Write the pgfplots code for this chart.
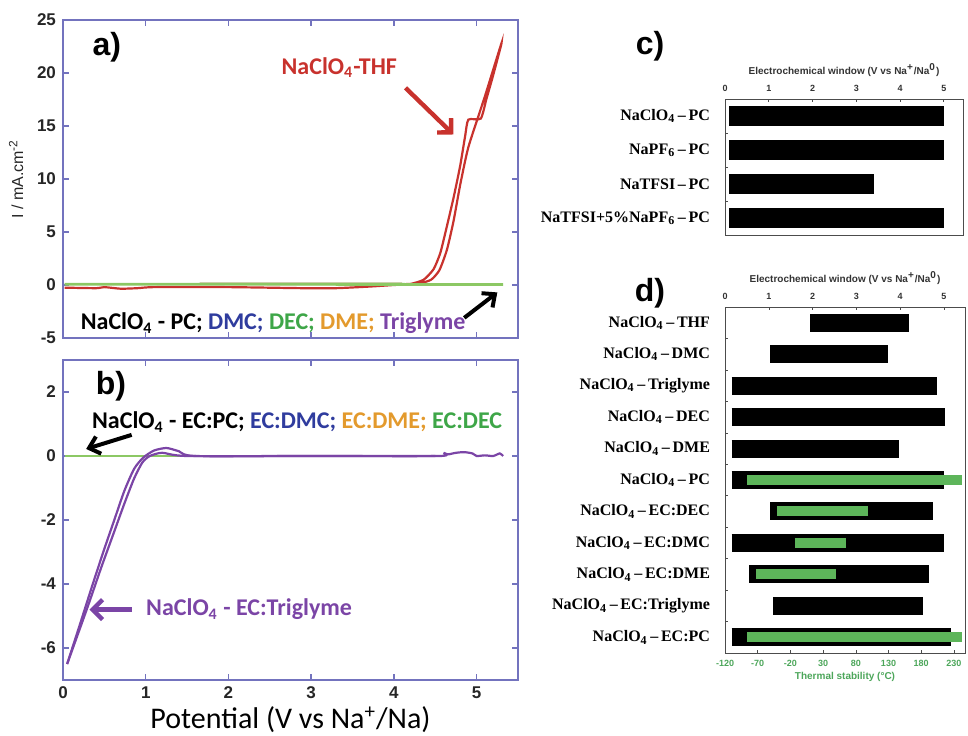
\documentclass[border=0pt]{standalone}
\usepackage{pgfplots}
\pgfplotsset{compat=1.18}
\usepackage{fontspec}
\setmainfont{Liberation Serif}
\setsansfont{Liberation Sans}
\newfontfamily\calfont{Carlito}
\usetikzlibrary{arrows.meta}

\definecolor{frameblue}{HTML}{7373BE}
\definecolor{thfred}{HTML}{C8322D}
\definecolor{lgreen}{HTML}{8CC864}
\definecolor{purp}{HTML}{7B45A6}
\definecolor{tblue}{HTML}{2F3C9E}
\definecolor{tgreen}{HTML}{3EA648}
\definecolor{torange}{HTML}{E39A2D}
\definecolor{olive}{HTML}{8A7A30}
\definecolor{bargreen}{HTML}{5DB55A}
\definecolor{dgreen}{HTML}{4CA65A}

\tikzset{cat/.style={font=\rmfamily\bfseries\fontsize{8}{9}\selectfont, anchor=east, xshift=-4pt}}

\pgfplotsset{
  cv/.style={scale only axis, anchor=south west, width=227.5pt,
    xmin=0, xmax=5.5, xtick={0,1,2,3,4,5},
    axis line style={frameblue, line width=1pt},
    every tick/.style={frameblue, line width=0.7pt}, major tick length=3pt,
    tick label style={font=\sffamily\bfseries\fontsize{8.5}{9}\selectfont, black!85},
    /pgf/number format/assume math mode=true, clip mode=individual},
  win/.style={scale only axis, anchor=south west, y dir=reverse,
    xtick={0,1,2,3,4,5}, xtick pos=right, xticklabel pos=right,
    axis line style={black!70, line width=0.4pt},
    every tick/.style={black!70, line width=0.3pt}, major tick length=1.5pt,
    xticklabel style={font=\sffamily\bfseries\fontsize{4.5}{5}\selectfont, black!80},
    yticklabels={}, ytick pos=left,
    /pgf/number format/assume math mode=true, clip=false},
}

\begin{document}
\begin{tikzpicture}
\path[use as bounding box] (0,0) rectangle (484pt,367.5pt);

% ---- a) ----
\begin{axis}[cv, at={(31.5pt,198.5pt)}, height=159pt,
  ymin=-5, ymax=25, ytick={-5,0,5,10,15,20,25}, xticklabels={},
  ylabel={I / mA.cm\textsuperscript{-2}},
  ylabel style={font=\sffamily\fontsize{8}{9}\selectfont, black!85}]
\addplot[olive, line width=1.2pt] coordinates {(1.65,0.12) (4.1,0.1)};
\addplot[thfred, line width=1.1pt, smooth, tension=0.35] coordinates {
  (0.02,-0.25) (0.4,-0.3) (0.5,-0.2) (0.7,-0.35) (0.9,-0.3) (1.1,-0.2)
  (2.0,-0.2) (2.9,-0.3) (3.3,-0.3) (3.7,-0.15) (4.0,0.0) (4.2,0.1)
  (4.36,0.5) (4.48,1.5) (4.56,3.0) (4.63,5.2) (4.72,8.2) (4.8,11.2) (4.86,14.0)
  (4.9,15.6) (5.05,15.7) (5.12,17.6) (5.2,19.8) (5.3,22.8)
  (5.1,17.8) (4.9,13.0) (4.8,9.4) (4.72,6.0) (4.64,3.3) (4.55,1.4) (4.45,0.5)
  (4.3,0.15) (4.0,0.05) (3.6,0.0)};
\addplot[lgreen, line width=1.4pt] coordinates {(0.02,0.08) (5.32,0.05)};
\node[font=\calfont\bfseries\fontsize{12}{14}\selectfont, text=thfred] at (axis cs:3.34,20.5) {NaClO\textsubscript{4}-THF};
\draw[thfred, line width=2.2pt, -{Straight Barb[length=5pt,width=10pt]}] (axis cs:4.14,18.6) -- (axis cs:4.72,14.2);
\node[font=\calfont\bfseries\fontsize{12}{14}\selectfont] at (axis cs:2.54,-3.6)
  {NaClO\textsubscript{4} - PC; \textcolor{tblue}{DMC;} \textcolor{tgreen}{DEC;} \textcolor{torange}{DME;} \textcolor{purp}{Triglyme}};
\draw[black, line width=2pt, -{Straight Barb[length=5pt,width=9pt]}] (axis cs:4.85,-3.1) -- (axis cs:5.25,-0.7);
\node[font=\sffamily\bfseries\fontsize{16}{18}\selectfont] at (axis cs:0.53,22.4) {a)};
\end{axis}

% ---- b) ----
\begin{axis}[cv, at={(31.5pt,27.5pt)}, height=160pt,
  ymin=-7, ymax=3, ytick={-6,-4,-2,0,2},
  xlabel={Potential (V vs Na\textsuperscript{+}/Na)},
  xlabel style={font=\calfont\fontsize{15}{17}\selectfont, black, yshift=3pt}]
\addplot[lgreen, line width=1.4pt] coordinates {(0.02,0) (1.5,0)};
\addplot[purp, line width=1.1pt, smooth, tension=0.4] coordinates {
  (0.05,-6.5) (0.2,-5.3) (0.36,-4.0) (0.5,-2.9) (0.62,-2.0) (0.74,-1.1)
  (0.86,-0.4) (0.97,-0.05) (1.1,0.17) (1.25,0.25) (1.4,0.15)
  (1.6,0.0) (3.0,0.0) (4.55,0.0) (4.6,0.1) (4.65,0.05) (4.75,0.1) (4.85,0.12)
  (4.95,0.08) (5.0,0.0) (5.1,0.02) (5.2,0.0) (5.28,0.08) (5.32,0.0)};
\addplot[purp, line width=1.1pt, smooth, tension=0.4] coordinates {
  (0.05,-6.5) (0.3,-4.7) (0.46,-3.5) (0.6,-2.5) (0.74,-1.5) (0.86,-0.7)
  (0.96,-0.2) (1.05,0.0) (1.2,0.1) (1.5,0.0) (3.0,0.0) (4.5,0.0)};
\node[font=\calfont\bfseries\fontsize{12}{14}\selectfont] at (axis cs:2.83,1.06)
  {NaClO\textsubscript{4} - EC:PC; \textcolor{tblue}{EC:DMC;} \textcolor{torange}{EC:DME;} \textcolor{tgreen}{EC:DEC}};
\draw[black, line width=2pt, -{Straight Barb[length=5pt,width=9pt]}] (axis cs:0.83,0.66) -- (axis cs:0.28,0.22);
\node[font=\calfont\bfseries\fontsize{12}{14}\selectfont, text=purp] at (axis cs:2.25,-4.8) {NaClO\textsubscript{4} - EC:Triglyme};
\draw[purp, line width=2.2pt, -{Straight Barb[length=5pt,width=10pt]}] (axis cs:0.83,-4.8) -- (axis cs:0.32,-4.8);
\node[font=\sffamily\bfseries\fontsize{16}{18}\selectfont] at (axis cs:0.58,2.19) {b)};
\end{axis}

% ---- c) ----
\node[font=\sffamily\bfseries\fontsize{16}{18}\selectfont] at (325pt,344.5pt) {c)};
\begin{axis}[win, at={(362.5pt,250pt)}, width=119pt, height=68pt,
  xmin=0, xmax=5.44, ymin=0.5, ymax=4.5,
  ytick={1.5,2.5,3.5},
  extra y ticks={1,2,3,4},
  extra y tick labels={NaClO\textsubscript{4}\,–\,PC, NaPF\textsubscript{6}\,–\,PC, NaTFSI\,–\,PC, NaTFSI+5\%NaPF\textsubscript{6}\,–\,PC},
  extra y tick style={tick style={draw=none}, yticklabel style={cat}}]
\addplot[black, line width=10pt] coordinates {(0.1,1) (5.0,1)};
\addplot[black, line width=10pt] coordinates {(0.1,2) (5.0,2)};
\addplot[black, line width=10pt] coordinates {(0.1,3) (3.4,3)};
\addplot[black, line width=10pt] coordinates {(0.1,4) (5.0,4)};
\node[font=\sffamily\bfseries\fontsize{5}{6}\selectfont, black!80] at (rel axis cs:0.5,1) [yshift=14.5pt] {Electrochemical window (V vs Na\textsuperscript{+}/Na\textsuperscript{0})};
\end{axis}

% ---- d) ----
\node[font=\sffamily\bfseries\fontsize{16}{18}\selectfont] at (325pt,221pt) {d)};
\begin{axis}[win, at={(362.5pt,41pt)}, width=120pt, height=173pt,
  xmin=0, xmax=5.48, ymin=0.5, ymax=11.5,
  ytick={1.5,2.5,...,10.5},
  extra y ticks={1,2,...,11},
  extra y tick labels={NaClO\textsubscript{4}\,–\,THF, NaClO\textsubscript{4}\,–\,DMC, NaClO\textsubscript{4}\,–\,Triglyme, NaClO\textsubscript{4}\,–\,DEC, NaClO\textsubscript{4}\,–\,DME, NaClO\textsubscript{4}\,–\,PC, NaClO\textsubscript{4}\,–\,EC:DEC, NaClO\textsubscript{4}\,–\,EC:DMC, NaClO\textsubscript{4}\,–\,EC:DME, NaClO\textsubscript{4}\,–\,EC:Triglyme, NaClO\textsubscript{4}\,–\,EC:PC},
  extra y tick style={tick style={draw=none}, yticklabel style={cat}}]
\addplot[black, line width=9pt] coordinates {(1.95,1) (4.2,1)};
\addplot[black, line width=9pt] coordinates {(1.03,2) (3.72,2)};
\addplot[black, line width=9pt] coordinates {(0.15,3) (4.84,3)};
\addplot[black, line width=9pt] coordinates {(0.15,4) (5.02,4)};
\addplot[black, line width=9pt] coordinates {(0.15,5) (3.97,5)};
\addplot[black, line width=9pt] coordinates {(0.15,6) (5.0,6)};
\addplot[black, line width=9pt] coordinates {(1.03,7) (4.75,7)};
\addplot[black, line width=9pt] coordinates {(0.15,8) (5.0,8)};
\addplot[black, line width=9pt] coordinates {(0.55,9) (4.66,9)};
\addplot[black, line width=9pt] coordinates {(1.1,10) (4.52,10)};
\addplot[black, line width=9pt] coordinates {(0.15,11) (5.16,11)};
\node[font=\sffamily\bfseries\fontsize{5}{6}\selectfont, black!80] at (rel axis cs:0.5,1) [yshift=14.5pt] {Electrochemical window (V vs Na\textsuperscript{+}/Na\textsuperscript{0})};
\end{axis}
\begin{axis}[scale only axis, anchor=south west, at={(362.5pt,41pt)}, width=120pt, height=173pt,
  xmin=-120, xmax=247, ymin=0.5, ymax=11.5, y dir=reverse,
  axis x line*=bottom, axis y line=none,
  axis line style={black!70, line width=0.4pt},
  xtick={-120,-70,-20,30,80,130,180,230},
  every tick/.style={black!70, line width=0.3pt}, major tick length=1.5pt,
  xticklabel style={font=\sffamily\bfseries\fontsize{4.5}{5}\selectfont, dgreen},
  /pgf/number format/assume math mode=true,
  xlabel={Thermal stability (°C)},
  xlabel style={font=\sffamily\bfseries\fontsize{5}{6}\selectfont, dgreen, yshift=4pt}]
\addplot[bargreen, line width=5pt] coordinates {(-86,6) (242,6)};
\addplot[bargreen, line width=5pt] coordinates {(-40,7) (99,7)};
\addplot[bargreen, line width=5pt] coordinates {(-13,8) (65,8)};
\addplot[bargreen, line width=5pt] coordinates {(-72,9) (50,9)};
\addplot[bargreen, line width=5pt] coordinates {(-86,11) (242,11)};
\end{axis}
\end{tikzpicture}
\end{document}
